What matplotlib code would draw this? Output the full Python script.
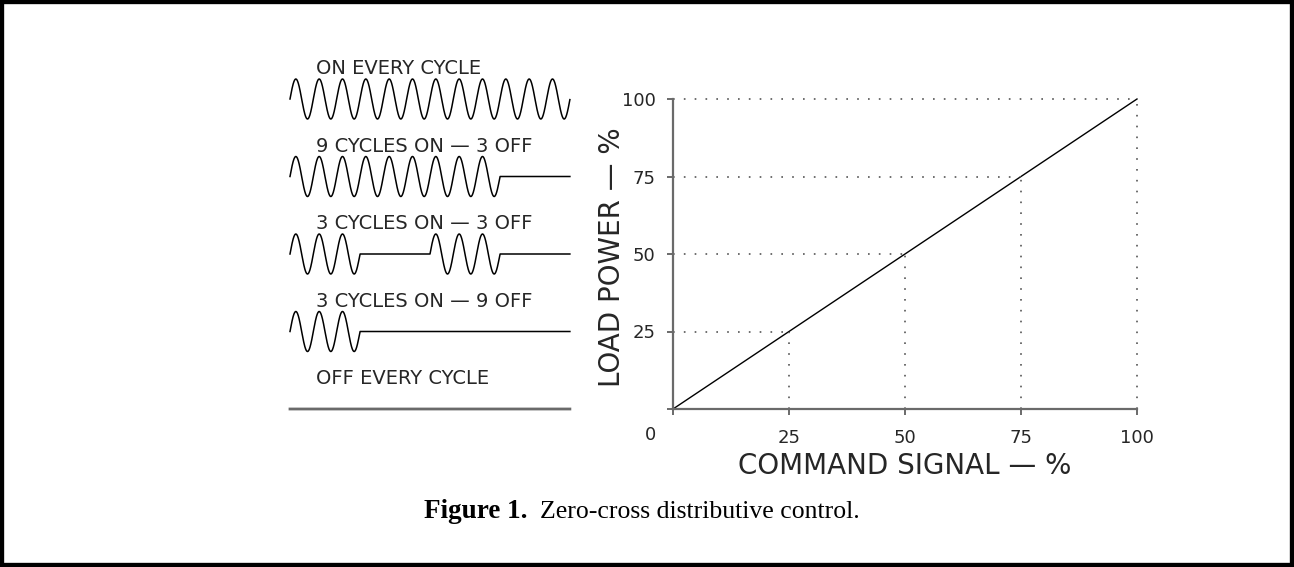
import numpy as np
import matplotlib
matplotlib.use("Agg")
import matplotlib.pyplot as plt
from matplotlib.patches import Rectangle

# switching patterns, one entry per mains cycle (1 = on, 0 = off)
pattern_labels = ['ON EVERY CYCLE', '9 CYCLES ON \u2014 3 OFF', '3 CYCLES ON \u2014 3 OFF',
                  '3 CYCLES ON \u2014 9 OFF', 'OFF EVERY CYCLE']
patterns = [
    [1, 1, 1, 1, 1, 1, 1, 1, 1, 1, 1, 1],
    [1, 1, 1, 1, 1, 1, 1, 1, 1, 0, 0, 0],
    [1, 1, 1, 0, 0, 0, 1, 1, 1, 0, 0, 0],
    [1, 1, 1, 0, 0, 0, 0, 0, 0, 0, 0, 0],
    [0, 0, 0, 0, 0, 0, 0, 0, 0, 0, 0, 0],
]

# transfer curve
command_signal = [0, 100]
load_power = [0, 100]
ticks = [25, 50, 75, 100]
tick_labels = ['25', '50', '75', '100']

axis_grey = '#6a6a6a'
text_col = '#262626'
fig = plt.figure(figsize=(12.94, 5.67), dpi=100)

# main chart
ax = fig.add_axes([673 / 1294, 158 / 567, 464 / 1294, 310 / 567])
ax.plot(command_signal, load_power, color='black', lw=1.0, clip_on=False)
for t in ticks:
    ax.plot([0, t], [t, t], color='#555555', lw=1.2, ls=(0, (1, 5.5)), clip_on=False)
    ax.plot([t, t], [0, t], color='#555555', lw=1.2, ls=(0, (1, 5.5)), clip_on=False)
ax.set_xlim(0, 100)
ax.set_ylim(0, 100)
ax.set_xticks([0] + ticks, [''] + tick_labels)
ax.set_yticks([0] + ticks, [''] + tick_labels)
ax.annotate('0', xy=(0, 0), xytext=(-23, -26), textcoords='offset pixels',
            ha='center', va='center', fontsize=13, color=text_col)
for s in ['top', 'right']:
    ax.spines[s].set_visible(False)
for s in ['left', 'bottom']:
    ax.spines[s].set_color(axis_grey)
    ax.spines[s].set_linewidth(1.6)
ax.tick_params(direction='out', length=4.5, width=1.4, color=axis_grey,
               labelsize=13, labelcolor=text_col)
ax.tick_params(axis='y', pad=8)
ax.tick_params(axis='x', pad=10)
ax.set_xlabel('COMMAND SIGNAL \u2014 %', fontsize=20, va='center', color=text_col)
ax.xaxis.set_label_coords(0.5, -0.184)
ax.set_ylabel('LOAD POWER \u2014 %', fontsize=20, va='center', color=text_col)
ax.yaxis.set_label_coords(-0.1315, 0.49)

# waveform panel, same vertical scale as the chart
ax2 = fig.add_axes([290 / 1294, 158 / 567, 280 / 1294, 310 / 567])
ax2.set_xlim(0, 12)
ax2.set_ylim(0, 100)
ax2.axis('off')
t = np.linspace(0, 12, 2400, endpoint=False)
for label, pat in zip(pattern_labels, patterns):
    level = 100 * sum(pat) / len(pat)
    on = np.array(pat)[t.astype(int)]
    y = level + 6.45 * np.sin(2 * np.pi * t) * on
    if sum(pat) == 0:
        ax2.plot(t, y, color=axis_grey, lw=2.0, clip_on=False)
    else:
        ax2.plot(t, y, color='black', lw=1.1, clip_on=False)
    ax2.text(1.1, level + 9.7, label, ha='left', va='center', fontsize=14, color=text_col)

# caption
fig.text(528 / 1294, 1 - 512 / 567, 'Figure 1.', ha='right', va='center',
         fontsize=19.5, fontweight='bold', family='Liberation Serif')
fig.text(540 / 1294, 1 - 512 / 567, 'Zero-cross distributive control.', ha='left', va='center',
         fontsize=18.5, family='Liberation Serif')

# frame around the figure
fig.patches.append(Rectangle((0, 0), 1, 1, transform=fig.transFigure, fill=False,
                             edgecolor='black', lw=6))

fig.savefig('out.png', dpi=100)
